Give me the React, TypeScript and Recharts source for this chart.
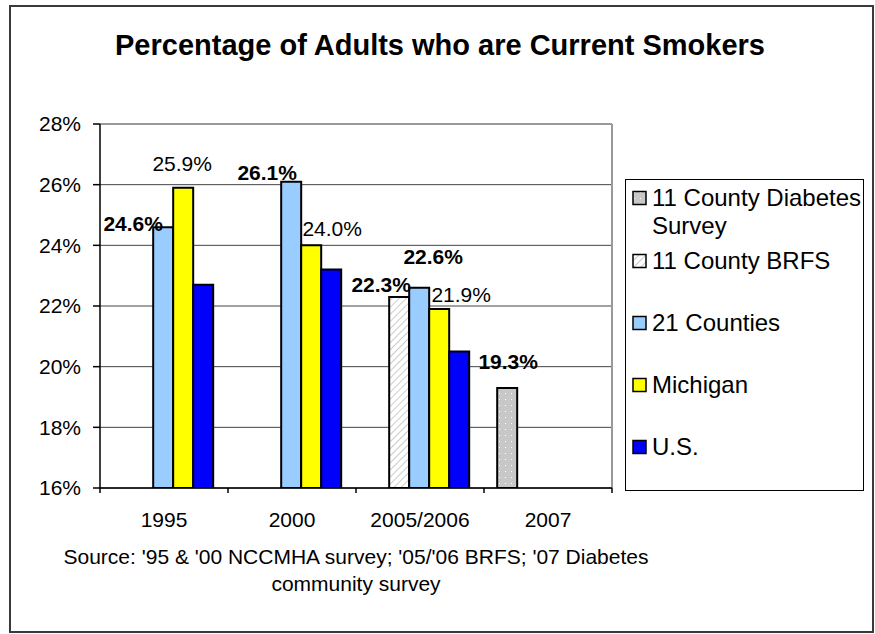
import React from "react";
import {
  BarChart,
  Bar,
  XAxis,
  YAxis,
  CartesianGrid,
  Legend,
  LabelList,
} from "recharts";

// Values
const categories = ["1995", "2000", "2005/2006", "2007"];
const diabetesSurvey = [null, null, null, 19.3];
const brfs = [null, null, 22.3, null];
const counties21 = [24.6, 26.1, 22.6, null];
const michigan = [25.9, 24.0, 21.9, null];
const us = [22.7, 23.2, 20.5, null];
const yTicks = [16, 18, 20, 22, 24, 26, 28];

const title = "Percentage of Adults who are Current Smokers";
const sourceLines = [
  "Source: '95 & '00 NCCMHA survey; '05/'06 BRFS; '07 Diabetes",
  "community survey",
];

const data = categories.map((cat, i) => ({
  cat,
  diabetes: diabetesSurvey[i],
  brfs: brfs[i],
  counties: counties21[i],
  michigan: michigan[i],
  us: us[i],
}));

const FONT = "'Liberation Sans', Arial, Helvetica, sans-serif";

const series = [
  { key: "diabetes", name: "11 County Diabetes Survey", values: diabetesSurvey, fill: "url(#dots)", bold: true },
  { key: "brfs", name: "11 County BRFS", values: brfs, fill: "url(#hatch)", bold: true },
  { key: "counties", name: "21 Counties", values: counties21, fill: "#99CCFF", bold: true },
  { key: "michigan", name: "Michigan", values: michigan, fill: "#FFFF00", bold: false },
  { key: "us", name: "U.S.", values: us, fill: "#0000FF", bold: false },
];

// label nudges (dx, dy from bar top centre) – labels were hand placed in the original
const labelShift: Record<string, (number[] | null)[]> = {
  diabetes: [null, null, null, [1, -26]],
  brfs: [null, null, [-18, -12], null],
  counties: [[-30, -3], [-24, -9], [14, -31], null],
  michigan: [[-1, -24], [21, -17], [22, -14], null],
};

const TICK = 5;
const TICK_GAP = 19;

function CategoryTick(props: any) {
  const { x, y, payload } = props;
  const axisY = y - TICK - TICK_GAP;
  const half = payload.offset || 0;
  const isLast = payload.value === categories[categories.length - 1];
  return (
    <g>
      <line x1={x - half} x2={x - half} y1={axisY} y2={axisY + TICK} stroke="#000" strokeWidth={1.5} />
      {isLast && (
        <line x1={x + half} x2={x + half} y1={axisY} y2={axisY + TICK} stroke="#000" strokeWidth={1.5} />
      )}
      <text x={x} y={y} dy="0.71em" textAnchor="middle" fontSize={21} fontFamily={FONT} fill="#000">
        {payload.value}
      </text>
    </g>
  );
}

function makeLabel(key: string, values: (number | null)[], bold: boolean) {
  // bars with null values may be skipped, so map the label index back to a category
  const present = values.map((v, i) => (v == null ? -1 : i)).filter((i) => i >= 0);
  return (props: any) => {
    const { x, y, width, value, index } = props;
    if (value == null) return null;
    const ci = values[index] === value ? index : present[index];
    const shift = labelShift[key]?.[ci];
    if (!shift) return null;
    return (
      <text
        x={x + width / 2 + shift[0]}
        y={y + shift[1]}
        dy="0.35em"
        textAnchor="middle"
        fontSize={21}
        fontWeight={bold ? "bold" : "normal"}
        fontFamily={FONT}
        fill="#000"
      >
        {`${Number(value).toFixed(1)}%`}
      </text>
    );
  };
}

function LegendBox() {
  return (
    <div
      style={{
        boxSizing: "border-box",
        width: "100%",
        height: "100%",
        border: "1.5px solid #000",
        background: "#fff",
        padding: "4px 0 0 6px",
        fontFamily: FONT,
        fontSize: 24,
        lineHeight: "28px",
        color: "#000",
        textAlign: "left",
      }}
    >
      {series.map((s, i) => (
        <div key={s.key} style={{ display: "flex", alignItems: "flex-start", height: i === 0 ? 63 : 62 }}>
          <svg width={15} height={28} style={{ flex: "none" }}>
            <rect x={1} y={7.5} width={13} height={13} fill={s.fill} stroke="#000" strokeWidth={1.5} />
          </svg>
          <span style={{ marginLeft: 5, width: 222, flex: "none" }}>{s.name}</span>
        </div>
      ))}
    </div>
  );
}

export default function App() {
  return (
    <div
      style={{
        position: "fixed",
        left: 9,
        top: 5,
        width: 865,
        height: 628,
        boxSizing: "border-box",
        border: "2px solid #3a3a3a",
        background: "#fff",
        fontFamily: FONT,
      }}
    >
      <div
        style={{
          position: "absolute",
          left: 0,
          top: 22,
          width: 858,
          textAlign: "center",
          fontSize: 29,
          lineHeight: "33px",
          fontWeight: "bold",
          color: "#000",
        }}
      >
        {title}
      </div>

      <BarChart
        width={861}
        height={624}
        data={data}
        margin={{ top: 117, right: 260, left: 0, bottom: 103 }}
        barCategoryGap="10.3%"
        barGap={0}
      >
        <defs>
          <pattern id="dots" width="6" height="6" patternUnits="userSpaceOnUse">
            <rect width="6" height="6" fill="#C8C8C8" />
            <rect x="2" y="2" width="1" height="1" fill="#fff" />
          </pattern>
          <pattern id="hatch" width="5" height="5" patternUnits="userSpaceOnUse" patternTransform="rotate(45)">
            <rect width="5" height="5" fill="#fff" />
            <line x1="0" y1="0" x2="0" y2="5" stroke="#BBBBBB" strokeWidth="1.5" />
          </pattern>
        </defs>
        <CartesianGrid vertical={false} stroke="#444" strokeWidth={1} />
        <CartesianGrid
          stroke="#999"
          strokeWidth={2}
          horizontalCoordinatesGenerator={({ offset }: any) => [offset.top]}
          verticalCoordinatesGenerator={({ offset }: any) => [offset.left + offset.width]}
        />
        <XAxis
          dataKey="cat"
          height={40}
          axisLine={{ stroke: "#000", strokeWidth: 1.5 }}
          tickLine={false}
          tickSize={TICK}
          tickMargin={TICK_GAP}
          tick={<CategoryTick />}
          interval={0}
        />
        <YAxis
          width={89}
          domain={[16, 28]}
          ticks={yTicks}
          allowDataOverflow
          axisLine={{ stroke: "#000", strokeWidth: 1.5 }}
          tickLine={{ stroke: "#000", strokeWidth: 1.5 }}
          tickSize={7}
          tickMargin={12}
          tickFormatter={(v) => `${v}%`}
          tick={{ fontSize: 21, fill: "#000", fontFamily: FONT }}
        />
        <Legend
          layout="vertical"
          align="center"
          verticalAlign="middle"
          wrapperStyle={{ left: 614, top: 172, width: 239, height: 312 }}
          content={() => <LegendBox />}
        />
        {series.map((s) => (
          <Bar
            key={s.key}
            dataKey={s.key}
            name={s.name}
            fill={s.fill}
            stroke="#000"
            strokeWidth={2}
            isAnimationActive={false}
          >
            {labelShift[s.key] && (
              <LabelList dataKey={s.key} content={makeLabel(s.key, s.values, s.bold)} />
            )}
          </Bar>
        ))}
      </BarChart>

      <div
        style={{
          position: "absolute",
          left: 25,
          top: 536,
          width: 640,
          textAlign: "center",
          fontSize: 21,
          lineHeight: "27px",
          color: "#000",
        }}
      >
        {sourceLines.map((l) => (
          <div key={l}>{l}</div>
        ))}
      </div>
    </div>
  );
}
